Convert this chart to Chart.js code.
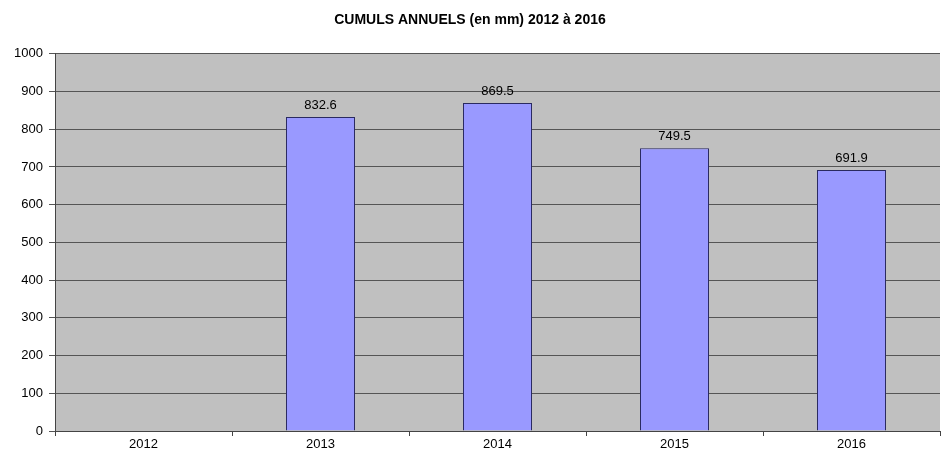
<!DOCTYPE html>
<html>
<head>
<meta charset="utf-8">
<script src="https://cdn.jsdelivr.net/npm/chart.js@4"></script>
<style>
  html, body { margin: 0; padding: 0; background: #fff; }
  #wrap { width: 942px; height: 454px; }
</style>
</head>
<body>
<div id="wrap"><canvas id="chart"></canvas></div>
<script>
// données
const annees = ['2012', '2013', '2014', '2015', '2016'];
const cumuls = [null, 832.6, 869.5, 749.5, 691.9];
const yTicks = [0, 100, 200, 300, 400, 500, 600, 700, 800, 900, 1000];

const police = '"Liberation Sans", Arial, sans-serif';

// fond gris de la zone de tracé
const fondGris = {
    id: 'fondGris',
    beforeDraw(chart) {
        const a = chart.chartArea;
        const ctx = chart.ctx;
        ctx.save();
        ctx.fillStyle = '#c0c0c0';
        ctx.fillRect(a.left, a.top, a.right - a.left, a.bottom - a.top);
        ctx.restore();
    }
};

// étiquettes de valeur au-dessus des barres
const etiquettes = {
    id: 'etiquettes',
    afterDatasetsDraw(chart) {
        const ctx = chart.ctx;
        const meta = chart.getDatasetMeta(0);
        ctx.save();
        ctx.font = '13px ' + police;
        ctx.fillStyle = '#000';
        ctx.textAlign = 'center';
        ctx.textBaseline = 'bottom';
        meta.data.forEach((bar, i) => {
            const v = cumuls[i];
            if (v == null) return;
            ctx.fillText(v.toFixed(1), bar.x, bar.y - 5);
        });
        ctx.restore();
    }
};

new Chart(document.getElementById('chart').getContext('2d'), {
    type: 'bar',
    data: {
        labels: annees,
        datasets: [{
            data: cumuls,
            backgroundColor: '#9999ff',
            borderColor: '#2a2a60',
            borderWidth: 1,
            categoryPercentage: 1,
            barPercentage: 0.39
        }]
    },
    options: {
        responsive: true,
        maintainAspectRatio: false,
        animation: false,
        layout: { padding: { left: 0, right: 2, top: 0, bottom: 0 } },
        plugins: {
            legend: { display: false },
            tooltip: { enabled: false },
            title: {
                display: true,
                text: 'CUMULS ANNUELS (en mm) 2012 à 2016',
                color: '#000',
                font: { family: police, size: 14, weight: 'bold' },
                padding: { top: 12, bottom: 25 }
            }
        },
        scales: {
            x: {
                grid: { drawOnChartArea: false, color: '#444', tickLength: 5 },
                border: { color: '#444' },
                ticks: { color: '#000', font: { family: police, size: 13 }, padding: 1 },
                afterFit(scale) { scale.height = 23; }
            },
            y: {
                min: 0,
                max: 1000,
                afterBuildTicks(scale) { scale.ticks = yTicks.map(v => ({ value: v })); },
                grid: { color: '#555', tickLength: 6 },
                border: { color: '#444' },
                ticks: {
                    color: '#000',
                    font: { family: police, size: 13 },
                    padding: 6,
                    callback: v => String(v)
                },
                afterFit(scale) { scale.width = 55; }
            }
        }
    },
    plugins: [fondGris, etiquettes]
});
</script>
</body>
</html>
